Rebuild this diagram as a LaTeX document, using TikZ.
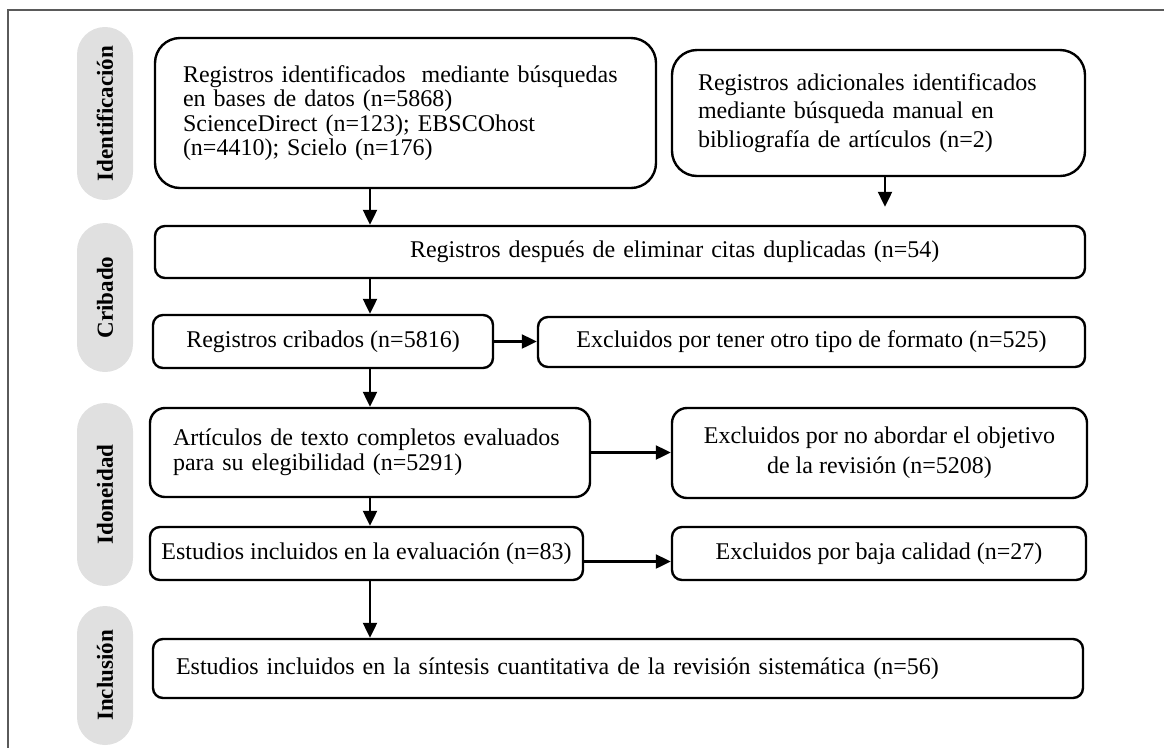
\documentclass[tikz,border=0pt]{standalone}
\usepackage{fontspec}
\setmainfont{Liberation Serif}
\usetikzlibrary{arrows.meta}
\definecolor{pillgray}{RGB}{224,224,224}
\definecolor{framegray}{RGB}{90,90,90}
\begin{document}
\begin{tikzpicture}[x=1pt,y=-1pt,
  box/.style={draw, line width=2.4pt, inner ysep=0pt, rounded corners=#1},
  box/.default=10pt,
  phase/.style={fill=pillgray, rotate=90, minimum height=56pt, rounded corners=27.9pt,
    inner sep=0pt, font=\fontsize{23}{25}\selectfont\bfseries},
  arr/.style={line width=2.2pt, -{Triangle[length=15pt,width=14pt]}}
]
\useasboundingbox (0,0) rectangle (1164,748);
% frame
\draw[line width=1.6pt, framegray] (1164,10) -- (8,10) -- (8,748);

% phase labels
\node[phase, minimum width=173pt] (p1) at (105,113.5) {Identificación};
\node[phase, minimum width=149pt] (p2) at (105,297.5) {Cribado};
\node[phase, minimum width=183pt] (p3) at (105,494.5) {Idoneidad};
\node[phase, minimum width=139pt] (p4) at (105,675.5) {Inclusión};

% boxes
\node[box=25pt, minimum width=501pt, minimum height=150pt, text width=445pt, inner xsep=28pt,
  align=left, font=\fontsize{24}{24.5}\selectfont] (A) at (405.5,113)
  {Registros identificados~ mediante búsquedas\\ en bases de datos (n=5868)\\ ScienceDirect (n=123); EBSCOhost\\ (n=4410); Scielo (n=176)};
\node[box=25pt, minimum width=413pt, minimum height=126pt, text width=361pt, inner xsep=26pt,
  align=left, font=\fontsize{24}{28.5}\selectfont] (B) at (878.5,113)
  {Registros adicionales identificados\\ mediante búsqueda manual en\\ bibliografía de artículos (n=2)};
\node[box, minimum width=930pt, minimum height=52pt, text width=930pt, inner xsep=0pt,
  align=left, font=\fontsize{24}{28}\selectfont] (C) at (620,252)
  {\hspace*{255pt}Registros después de eliminar citas duplicadas (n=54)};
\node[box, minimum width=340pt, minimum height=53pt, align=center,
  font=\fontsize{24}{28}\selectfont] (D) at (323,341.5)
  {Registros cribados (n=5816)};
\node[box, minimum width=547pt, minimum height=50pt, align=center,
  font=\fontsize{24}{28}\selectfont] (E) at (811.5,342)
  {Excluidos por tener otro tipo de formato (n=525)};
\node[box=15pt, minimum width=440pt, minimum height=89pt, text width=394pt, inner xsep=23pt,
  align=left, font=\fontsize{24}{25}\selectfont] (F) at (370,452.5)
  {Artículos de texto completos evaluados\\ para su elegibilidad (n=5291)};
\node[box=15pt, minimum width=415pt, minimum height=90pt, align=center,
  font=\fontsize{24}{30}\selectfont] (G) at (879.5,453)
  {Excluidos por no abordar el objetivo\\ de la revisión (n=5208)};
\node[box, minimum width=433pt, minimum height=53pt, align=center,
  font=\fontsize{24}{28}\selectfont] (H) at (366.5,553.5)
  {Estudios incluidos en la evaluación (n=83)};
\node[box, minimum width=414pt, minimum height=53pt, align=center,
  font=\fontsize{24}{28}\selectfont] (I) at (879,553.5)
  {Excluidos por baja calidad (n=27)};
\node[box, minimum width=930pt, minimum height=59pt, text width=884pt, inner xsep=23pt,
  align=left, font=\fontsize{24}{28}\selectfont] (J) at (618,668.5)
  {Estudios incluidos en la síntesis cuantitativa de la revisión sistemática (n=56)};

% connectors
\draw[arr] (A.south -| F.north) -- (C.north -| F.north);
\coordinate (bx) at ([xshift=6.5pt]B.south);
\draw[arr] (bx) -- ([yshift=18pt]bx |- C.north);
\draw[arr] (C.south -| F.north) -- (D.north -| F.north);
\draw[arr] (D.east) -- (D.east -| E.west);
\draw[arr] (D.south -| F.north) -- (F.north);
\draw[arr] (F.east) -- (F.east -| G.west);
\draw[arr] (F.south) -- (H.north -| F.south);
\draw[arr] ([yshift=-8pt]H.east) -- ([yshift=-8pt]H.east -| I.west);
\draw[arr] (H.south -| F.south) -- (J.north -| F.south);
\end{tikzpicture}
\end{document}
